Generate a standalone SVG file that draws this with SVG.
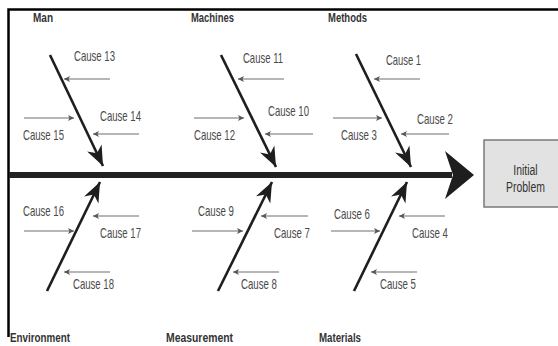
<svg xmlns="http://www.w3.org/2000/svg" width="558" height="346" viewBox="0 0 558 346">
  <style>
    .bone { stroke: #1e1e1e; stroke-width: 2.6; fill: none; }
    .cause { stroke: #6e6e6e; stroke-width: 1.2; fill: none; }
    .lbl { font-family: "Liberation Sans Narrow", "Liberation Sans", Arial, sans-serif; font-size: 14.5px; fill: #4a4a4a; }
    .cat { font-family: "Liberation Sans Narrow", "Liberation Sans", Arial, sans-serif; font-size: 13px; font-weight: bold; fill: #333; }
    .box { fill: #e2e2e2; stroke: #7a7a7a; stroke-width: 1.5; }
    .prob { font-family: "Liberation Sans Narrow", "Liberation Sans", Arial, sans-serif; font-size: 14.5px; fill: #333; text-anchor: middle; }
  </style>
  <defs>
    <marker id="big" markerUnits="userSpaceOnUse" markerWidth="26" markerHeight="22" viewBox="-22 -11 24 22" refX="0" refY="0" orient="auto">
      <path d="M0,0 L-20,-8 L-14,0 L-20,8 Z" fill="#1e1e1e"/>
    </marker>
    <marker id="small" markerUnits="userSpaceOnUse" markerWidth="8" markerHeight="8" viewBox="-7 -4 8 8" refX="0" refY="0" orient="auto">
      <path d="M0,0 L-6,-3 L-4.5,0 L-6,3 Z" fill="#555"/>
    </marker>
  </defs>

  <!-- frame -->
  <path d="M8.5,337 L8.5,9.5 L558,9.5" stroke="#000" stroke-width="2.5" fill="none"/>

  <!-- spine and head -->
  <g id="spine">
    <line x1="9" y1="175" x2="452" y2="175" stroke="#222" stroke-width="6"/>
    <polygon points="445,151 474,175 445,199 453,175" fill="#1e1e1e"/>
  </g>

  <!-- problem box -->
  <g id="problem">
    <rect class="box" x="484" y="140" width="76" height="67"/>
    <text class="prob" transform="translate(525.5,175) scale(0.72,1)">Initial</text>
    <text class="prob" transform="translate(525.5,192) scale(0.72,1)">Problem</text>
  </g>

  <g id="connectors">
    <!-- main bones -->
    <line class="bone" x1="50" y1="55" x2="103" y2="166" marker-end="url(#big)"/>
    <line class="bone" x1="221" y1="55" x2="276" y2="167" marker-end="url(#big)"/>
    <line class="bone" x1="356" y1="54" x2="411" y2="167" marker-end="url(#big)"/>
    <line class="bone" x1="47" y1="291" x2="100" y2="182" marker-end="url(#big)"/>
    <line class="bone" x1="218" y1="291" x2="272" y2="182" marker-end="url(#big)"/>
    <line class="bone" x1="354" y1="291" x2="407" y2="182" marker-end="url(#big)"/>

    <!-- cause arrows, upper -->
    <line class="cause" x1="110" y1="79" x2="64" y2="79" marker-end="url(#small)"/>
    <line class="cause" x1="139" y1="134" x2="93" y2="134" marker-end="url(#small)"/>
    <line class="cause" x1="24" y1="118" x2="74" y2="118" marker-end="url(#small)"/>
    <line class="cause" x1="284" y1="79" x2="238" y2="79" marker-end="url(#small)"/>
    <line class="cause" x1="313" y1="134" x2="265" y2="134" marker-end="url(#small)"/>
    <line class="cause" x1="194" y1="118" x2="244" y2="118" marker-end="url(#small)"/>
    <line class="cause" x1="420" y1="79" x2="374" y2="79" marker-end="url(#small)"/>
    <line class="cause" x1="449" y1="134" x2="401" y2="134" marker-end="url(#small)"/>
    <line class="cause" x1="333" y1="118" x2="382" y2="118" marker-end="url(#small)"/>

    <!-- cause arrows, lower -->
    <line class="cause" x1="24" y1="231" x2="74" y2="231" marker-end="url(#small)"/>
    <line class="cause" x1="139" y1="216" x2="93" y2="216" marker-end="url(#small)"/>
    <line class="cause" x1="110" y1="272" x2="64" y2="272" marker-end="url(#small)"/>
    <line class="cause" x1="192" y1="231" x2="243" y2="231" marker-end="url(#small)"/>
    <line class="cause" x1="308" y1="216" x2="261" y2="216" marker-end="url(#small)"/>
    <line class="cause" x1="279" y1="272" x2="233" y2="272" marker-end="url(#small)"/>
    <line class="cause" x1="331" y1="231" x2="380" y2="231" marker-end="url(#small)"/>
    <line class="cause" x1="445" y1="216" x2="399" y2="216" marker-end="url(#small)"/>
    <line class="cause" x1="417" y1="272" x2="371" y2="272" marker-end="url(#small)"/>
  </g>

  <!-- categories -->
  <g id="man">
    <text class="cat" x="33" y="22" textLength="20" lengthAdjust="spacingAndGlyphs">Man</text>
    <text class="lbl" x="74" y="61" textLength="41" lengthAdjust="spacingAndGlyphs">Cause 13</text>
    <text class="lbl" x="100" y="121" textLength="41" lengthAdjust="spacingAndGlyphs">Cause 14</text>
    <text class="lbl" x="23" y="140" textLength="41" lengthAdjust="spacingAndGlyphs">Cause 15</text>
  </g>
  <g id="machines">
    <text class="cat" x="191" y="22" textLength="43" lengthAdjust="spacingAndGlyphs">Machines</text>
    <text class="lbl" x="243" y="63" textLength="40" lengthAdjust="spacingAndGlyphs">Cause 11</text>
    <text class="lbl" x="268" y="116" textLength="41" lengthAdjust="spacingAndGlyphs">Cause 10</text>
    <text class="lbl" x="194" y="140" textLength="41" lengthAdjust="spacingAndGlyphs">Cause 12</text>
  </g>
  <g id="methods">
    <text class="cat" x="328" y="22" textLength="39" lengthAdjust="spacingAndGlyphs">Methods</text>
    <text class="lbl" x="386" y="65" textLength="35" lengthAdjust="spacingAndGlyphs">Cause 1</text>
    <text class="lbl" x="417" y="124" textLength="36" lengthAdjust="spacingAndGlyphs">Cause 2</text>
    <text class="lbl" x="341" y="140" textLength="36" lengthAdjust="spacingAndGlyphs">Cause 3</text>
  </g>
  <g id="environment">
    <text class="cat" x="10" y="342" textLength="60" lengthAdjust="spacingAndGlyphs">Environment</text>
    <text class="lbl" x="23" y="216" textLength="41" lengthAdjust="spacingAndGlyphs">Cause 16</text>
    <text class="lbl" x="100" y="238" textLength="41" lengthAdjust="spacingAndGlyphs">Cause 17</text>
    <text class="lbl" x="73" y="289" textLength="41" lengthAdjust="spacingAndGlyphs">Cause 18</text>
  </g>
  <g id="measurement">
    <text class="cat" x="166" y="342" textLength="67" lengthAdjust="spacingAndGlyphs">Measurement</text>
    <text class="lbl" x="198" y="216" textLength="36" lengthAdjust="spacingAndGlyphs">Cause 9</text>
    <text class="lbl" x="274" y="238" textLength="36" lengthAdjust="spacingAndGlyphs">Cause 7</text>
    <text class="lbl" x="241" y="289" textLength="36" lengthAdjust="spacingAndGlyphs">Cause 8</text>
  </g>
  <g id="materials">
    <text class="cat" x="319" y="342" textLength="42" lengthAdjust="spacingAndGlyphs">Materials</text>
    <text class="lbl" x="334" y="219" textLength="36" lengthAdjust="spacingAndGlyphs">Cause 6</text>
    <text class="lbl" x="412" y="238" textLength="36" lengthAdjust="spacingAndGlyphs">Cause 4</text>
    <text class="lbl" x="380" y="289" textLength="36" lengthAdjust="spacingAndGlyphs">Cause 5</text>
  </g>
</svg>
